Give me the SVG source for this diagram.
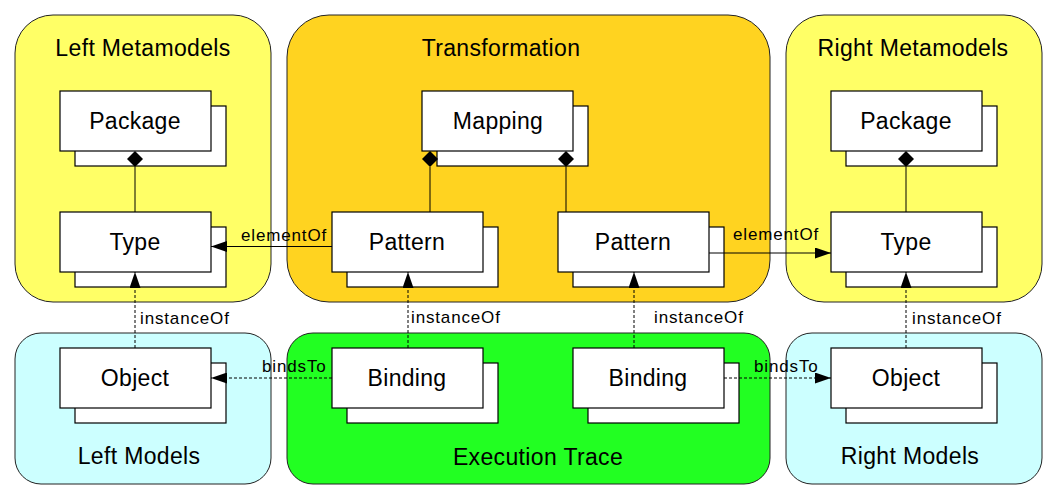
<svg xmlns="http://www.w3.org/2000/svg" width="1058" height="501" viewBox="0 0 1058 501">
<style>
text{font-family:"Liberation Sans",Arial,sans-serif;fill:#000}
.title{font-size:23px;letter-spacing:0.35px;text-anchor:middle}
.lbl{font-size:23px;letter-spacing:0.3px;text-anchor:middle}
.cl{font-size:17px;letter-spacing:0.85px}
.cont{stroke:#222;stroke-width:1}
.box{fill:#fff;stroke:#000;stroke-width:1.2}
.ln{fill:none;stroke:#000;stroke-width:1}
.dash{fill:none;stroke:#000;stroke-width:1;stroke-dasharray:3,2}
.dia{fill:#000}
</style>
<defs>
<marker id="ah" markerUnits="userSpaceOnUse" markerWidth="16" markerHeight="11" refX="16" refY="5.5" orient="auto" viewBox="0 0 16 11">
<path d="M0,0 L16,5.5 L0,11 z" fill="#000"/>
</marker>
</defs>
<rect width="1058" height="501" fill="#fff"/>

<g id="left-metamodels"><rect class="cont" x="15" y="15" width="256" height="287" rx="38" ry="38" fill="#FFFF66"/><text class="title" x="143" y="56">Left Metamodels</text></g>
<g id="transformation"><rect class="cont" x="287" y="15" width="483" height="287" rx="42" ry="42" fill="#FFD320"/><text class="title" x="501" y="56">Transformation</text></g>
<g id="right-metamodels"><rect class="cont" x="786" y="15" width="256" height="287" rx="38" ry="38" fill="#FFFF66"/><text class="title" x="913" y="56">Right Metamodels</text></g>
<g id="left-models"><rect class="cont" x="15" y="333" width="256" height="151" rx="26" ry="26" fill="#CCFFFF"/><text class="title" x="139" y="464">Left Models</text></g>
<g id="execution-trace"><rect class="cont" x="287" y="333" width="483" height="151" rx="26" ry="26" fill="#22FF22"/><text class="title" x="538" y="465">Execution Trace</text></g>
<g id="right-models"><rect class="cont" x="786" y="333" width="256" height="151" rx="26" ry="26" fill="#CCFFFF"/><text class="title" x="910" y="464">Right Models</text></g>

<g id="package-left"><rect class="box" x="75" y="106" width="151" height="60"/><rect class="box" x="60" y="91" width="151" height="60"/><text class="lbl" x="135" y="129">Package</text></g>
<g id="type-left"><rect class="box" x="75" y="227" width="151" height="60"/><rect class="box" x="60" y="212" width="151" height="60"/><text class="lbl" x="135" y="250">Type</text></g>
<g id="mapping"><rect class="box" x="437" y="106" width="151" height="60"/><rect class="box" x="422" y="91" width="151" height="60"/><text class="lbl" x="498" y="129">Mapping</text></g>
<g id="pattern-left"><rect class="box" x="347" y="227" width="151" height="60"/><rect class="box" x="332" y="212" width="151" height="60"/><text class="lbl" x="407" y="250">Pattern</text></g>
<g id="pattern-right"><rect class="box" x="573" y="227" width="151" height="60"/><rect class="box" x="558" y="212" width="151" height="60"/><text class="lbl" x="633" y="250">Pattern</text></g>
<g id="package-right"><rect class="box" x="846" y="106" width="151" height="60"/><rect class="box" x="831" y="91" width="151" height="60"/><text class="lbl" x="906" y="129">Package</text></g>
<g id="type-right"><rect class="box" x="846" y="227" width="151" height="60"/><rect class="box" x="831" y="212" width="151" height="60"/><text class="lbl" x="906" y="250">Type</text></g>
<g id="object-left"><rect class="box" x="75" y="363" width="151" height="60"/><rect class="box" x="60" y="348" width="151" height="60"/><text class="lbl" x="135" y="386">Object</text></g>
<g id="binding-left"><rect class="box" x="347" y="363" width="151" height="60"/><rect class="box" x="332" y="348" width="151" height="60"/><text class="lbl" x="407" y="386">Binding</text></g>
<g id="binding-right"><rect class="box" x="588" y="363" width="151" height="60"/><rect class="box" x="573" y="348" width="151" height="60"/><text class="lbl" x="648" y="386">Binding</text></g>
<g id="object-right"><rect class="box" x="846" y="363" width="151" height="60"/><rect class="box" x="831" y="348" width="151" height="60"/><text class="lbl" x="906" y="386">Object</text></g>

<g id="connectors">
<line class="ln" x1="135" y1="167" x2="135" y2="212"/>
<path class="dia" d="M135,151 L143,159 L135,167 L127,159 z"/>
<line class="ln" x1="906" y1="167" x2="906" y2="212"/>
<path class="dia" d="M906,151 L914,159 L906,167 L898,159 z"/>
<line class="ln" x1="430" y1="167" x2="430" y2="212"/>
<path class="dia" d="M430,151 L438,159 L430,167 L422,159 z"/>
<line class="ln" x1="566" y1="167" x2="566" y2="212"/>
<path class="dia" d="M566,151 L574,159 L566,167 L558,159 z"/>

<line class="ln" x1="332" y1="246.5" x2="211" y2="246.5" marker-end="url(#ah)"/>
<text class="cl" x="241" y="241">elementOf</text>
<line class="ln" x1="709" y1="253" x2="831" y2="253" marker-end="url(#ah)"/>
<text class="cl" x="733" y="240">elementOf</text>

<line class="dash" x1="135" y1="348" x2="135" y2="272" marker-end="url(#ah)"/>
<text class="cl" x="140" y="324">instanceOf</text>
<line class="dash" x1="408" y1="348" x2="408" y2="272" marker-end="url(#ah)"/>
<text class="cl" x="411" y="323">instanceOf</text>
<line class="dash" x1="634" y1="348" x2="634" y2="272" marker-end="url(#ah)"/>
<text class="cl" x="654" y="323">instanceOf</text>
<line class="dash" x1="906" y1="348" x2="906" y2="272" marker-end="url(#ah)"/>
<text class="cl" x="912" y="324">instanceOf</text>

<line class="dash" x1="332" y1="378" x2="211" y2="378" marker-end="url(#ah)"/>
<text class="cl" x="262" y="372">bindsTo</text>
<line class="dash" x1="724" y1="378" x2="831" y2="378" marker-end="url(#ah)"/>
<text class="cl" x="754" y="372">bindsTo</text>
</g>
</svg>
